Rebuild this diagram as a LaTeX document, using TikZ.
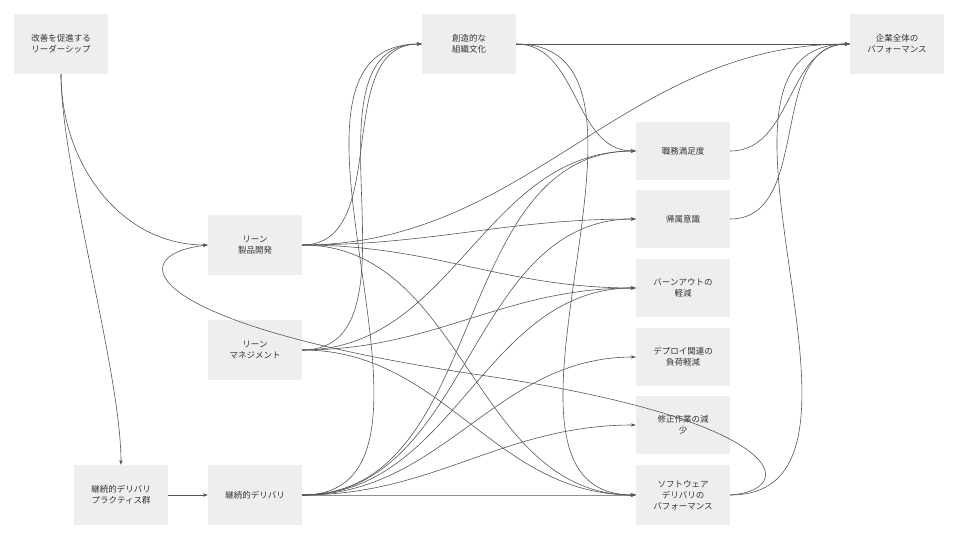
\documentclass[tikz,border=0pt]{standalone}
\usepackage{fontspec}
\setmainfont{Noto Sans CJK JP}
\usetikzlibrary{arrows.meta}
\definecolor{boxc}{HTML}{EEEEEE}
\definecolor{linec}{HTML}{555555}
\definecolor{txtc}{HTML}{333333}
\begin{document}
\begin{tikzpicture}[x=1pt,y=-1pt,
  box/.style={fill=boxc,draw=none,minimum width=94pt,inner sep=1pt,align=center,text=txtc,font=\fontsize{8.5}{11}\selectfont},
  e/.style={draw=linec,line width=0.6pt,-{Stealth[length=5pt,width=3.5pt]}},
  h/.style={e,out=0,in=180}]
\useasboundingbox (0,0) rectangle (960,540);
\node[box,minimum height=60pt] (A) at (61,44) {改善を促進する\\リーダーシップ};
\node[box,minimum height=60pt] (B) at (255,245) {リーン\\製品開発};
\node[box,minimum height=60pt] (C) at (255,350) {リーン\\マネジメント};
\node[box,minimum height=60pt] (D) at (121,495) {継続的デリバリ\\プラクティス群};
\node[box,minimum height=60pt] (E) at (255,495) {継続的デリバリ};
\node[box,minimum height=60pt] (F) at (469,44) {創造的な\\組織文化};
\node[box,minimum height=60pt] (G) at (897,44) {企業全体の\\パフォーマンス};
\node[box,minimum height=58pt] (H) at (683,151) {職務満足度};
\node[box,minimum height=58pt] (I) at (683,219) {帰属意識};
\node[box,minimum height=58pt] (J) at (683,288) {バーンアウトの\\軽減};
\node[box,minimum height=58pt] (K) at (683,357) {デプロイ関連の\\負荷軽減};
\node[box,minimum height=58pt] (L) at (683,425) {修正作業の減\\少};
\node[box,minimum height=60pt] (M) at (683,495) {ソフトウェア\\デリバリの\\パフォーマンス};
\draw[e] (A.south) to[out=-90,in=180] (B.west);
\draw[e] (A.south) to[out=-90,in=90,looseness=0.6] (D.north);
\draw[e] (D) -- (E);
\foreach \s in {B,C,E}{\draw[h] (\s.east) to (F.west);}
\draw[e] (F.east) -- (G.west);
\draw[h] (F.east) to (H.west);
\draw[h] (F.east) to (M.west);
\draw[h] (B.east) to (G.west);
\foreach \t in {I,J,M}{\draw[h] (B.east) to (\t.west);}
\foreach \t in {H,J,M}{\draw[h] (C.east) to (\t.west);}
\foreach \t in {H,I,J,K,L,M}{\draw[h] (E.east) to (\t.west);}
\foreach \s in {H,I,M}{\draw[h] (\s.east) to (G.west);}
\draw[e] (M.east) .. controls (800,490) and (790,420) .. (480,375) .. controls (140,325) and (120,255) .. (B.west);
\end{tikzpicture}
\end{document}
